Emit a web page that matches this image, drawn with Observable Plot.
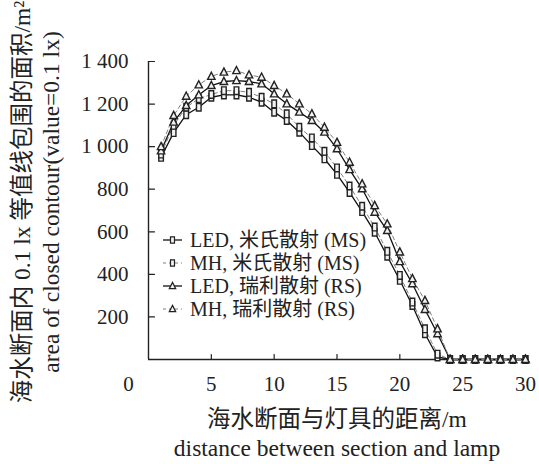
<!DOCTYPE html>
<html>
<head>
<meta charset="utf-8">
<script src="https://cdn.jsdelivr.net/npm/d3@7"></script>
<script src="https://cdn.jsdelivr.net/npm/@observablehq/plot@0.6"></script>
<style>
  body { margin: 0; background: #fff; }
</style>
</head>
<body>
<div id="chart"></div>
<script>
// Distance between the seawater section and the lamp (m)
const distance = d3.range(1, 31);

// Area enclosed by the 0.1 lx contour (m²)
const ledMie = [950, 1066, 1150, 1185, 1232, 1243, 1243, 1232, 1209, 1162, 1123, 1068, 1005, 943, 870,
                785, 695, 598, 485, 372, 254, 121, 12, 0, 0, 0, 0, 0, 0, 0];
const mhMie = [965, 1100, 1185, 1225, 1245, 1263, 1263, 1255, 1232, 1201, 1154, 1091, 1041, 978, 900,
               815, 720, 622, 508, 395, 270, 144, 25, 0, 0, 0, 0, 0, 0, 0];
const ledRayleigh = [980, 1115, 1193, 1243, 1287, 1306, 1310, 1306, 1295, 1248, 1201, 1162, 1123, 1068, 990,
                     892, 802, 692, 606, 460, 356, 235, 121, 0, 0, 0, 0, 0, 0, 0];
const mhRayleigh = [1000, 1146, 1237, 1290, 1330, 1350, 1357, 1337, 1326, 1287, 1248, 1201, 1154, 1091, 1020,
                    927, 825, 723, 637, 505, 380, 277, 144, 0, 0, 0, 0, 0, 0, 0];

const seriesNames = ["LED, 米氏散射 (MS)", "MH, 米氏散射 (MS)", "LED, 瑞利散射 (RS)", "MH, 瑞利散射 (RS)"];
const xTicks = [5, 10, 15, 20, 25, 30];
const yTicks = [200, 400, 600, 800, 1000, 1200, 1400];

const xTitle = ["海水断面与灯具的距离/m", "distance between section and lamp"];
const yTitle = ["海水断面内 0.1 lx 等值线包围的面积/m²", "area of closed contour(value=0.1 lx)"];

const FONT = "'Liberation Serif', 'Times New Roman', 'Noto Sans CJK SC', serif";

// Hollow marker shapes
const rectSymbol = {
  draw(ctx) { ctx.rect(-2.3, -3.8, 4.6, 7.6); }
};
const triSymbol = {
  draw(ctx) { ctx.moveTo(0, -4.2); ctx.lineTo(3.7, 3); ctx.lineTo(-3.7, 3); ctx.closePath(); }
};

const series = [
  { name: seriesNames[0], values: ledMie, stroke: "#111", dash: null, width: 1.3, symbol: rectSymbol },
  { name: seriesNames[1], values: mhMie, stroke: "#808080", dash: "4,3", width: 1, symbol: rectSymbol },
  { name: seriesNames[2], values: ledRayleigh, stroke: "#111", dash: null, width: 1.3, symbol: triSymbol },
  { name: seriesNames[3], values: mhRayleigh, stroke: "#808080", dash: "4,3", width: 1, symbol: triSymbol }
];

const rows = s => distance.map((d, i) => ({ x: d, y: s.values[i] }));

const fmt = d => d >= 1000 ? `${Math.floor(d / 1000)} ${String(d % 1000).padStart(3, "0")}` : `${d}`;

// Tick mark drawn from the anchor point outward
const tickShape = { draw(ctx, l) { ctx.moveTo(0, 0); ctx.lineTo(0, -l); } };

const marks = [
  Plot.ruleY([0], { stroke: "#222", strokeWidth: 1.4 }),
  Plot.ruleX([0], { stroke: "#222", strokeWidth: 1.4 }),
  Plot.vector(xTicks, { x: d => d, y: 0, length: 5, rotate: 0, anchor: "start", shape: tickShape, stroke: "#222", strokeWidth: 1.2 }),
  Plot.vector(yTicks, { x: 0, y: d => d, length: 6, rotate: 90, anchor: "start", shape: tickShape, stroke: "#222", strokeWidth: 1.2 }),
  Plot.text(xTicks, { x: d => d, y: 0, text: d => fmt(d), dy: 25, fontSize: 21, fill: "#222" }),
  Plot.text(yTicks, { x: 0, y: d => d, text: d => fmt(d), dx: -20, textAnchor: "end", fontSize: 21, fill: "#222" }),
  Plot.text([0], { x: 0, y: 0, text: d => fmt(d), dx: -20, dy: 25, fontSize: 21, fill: "#222" })
];

for (const s of series) {
  marks.push(Plot.line(rows(s), {
    x: "x", y: "y", stroke: s.stroke, strokeWidth: s.width, strokeDasharray: s.dash
  }));
}
for (const s of series) {
  marks.push(Plot.dot(rows(s), {
    x: "x", y: "y", symbol: s.symbol, r: 3, fill: "#f2f2f2", stroke: "#222", strokeWidth: 1.4
  }));
}

const chart = Plot.plot({
  width: 539,
  height: 464,
  marginLeft: 148,
  marginRight: 14,
  marginTop: 61,
  marginBottom: 105,
  x: { domain: [0, 30], axis: null },
  y: { domain: [0, 1400], axis: null },
  style: { fontFamily: FONT, background: "white", color: "#222", overflow: "visible" },
  marks
});

const svg = d3.select(chart);

// Axis titles
svg.append("g")
  .attr("font-family", FONT)
  .attr("font-size", 23.5)
  .attr("fill", "#222")
  .attr("text-anchor", "middle")
  .selectAll("text")
  .data(xTitle)
  .join("text")
  .attr("x", 337)
  .attr("y", (d, i) => 427 + i * 29)
  .text(d => d);

svg.append("g")
  .attr("font-family", FONT)
  .attr("font-size", 23.5)
  .attr("fill", "#222")
  .attr("text-anchor", "middle")
  .selectAll("text")
  .data(yTitle)
  .join("text")
  .attr("transform", (d, i) => `translate(${22 + i * 29},${202}) rotate(-90)`)
  .attr("dy", "0.36em")
  .text(d => d);

// Legend
const legend = svg.append("g")
  .attr("font-family", FONT)
  .attr("font-size", 20)
  .attr("fill", "#222")
  .attr("text-anchor", "start");
series.forEach((s, i) => {
  const g = legend.append("g").attr("transform", `translate(163,${240 + i * 23})`);
  g.append("line").attr("x1", 0).attr("x2", 19).attr("y1", 0).attr("y2", 0)
    .attr("stroke", s.stroke).attr("stroke-width", s.width)
    .attr("stroke-dasharray", s.dash ? "3,3" : null);
  g.append("path").attr("transform", "translate(9.5,0)")
    .attr("d", s.symbol === rectSymbol ? "M-2,-3.2h4v6.4h-4Z" : "M0,-3.6L3.2,2.6L-3.2,2.6Z")
    .attr("fill", "#f2f2f2").attr("stroke", "#222").attr("stroke-width", 1.2);
  g.append("text").attr("x", 27).attr("y", 0).attr("dy", "0.36em").text(s.name);
});

document.getElementById("chart").appendChild(chart);
</script>
</body>
</html>
